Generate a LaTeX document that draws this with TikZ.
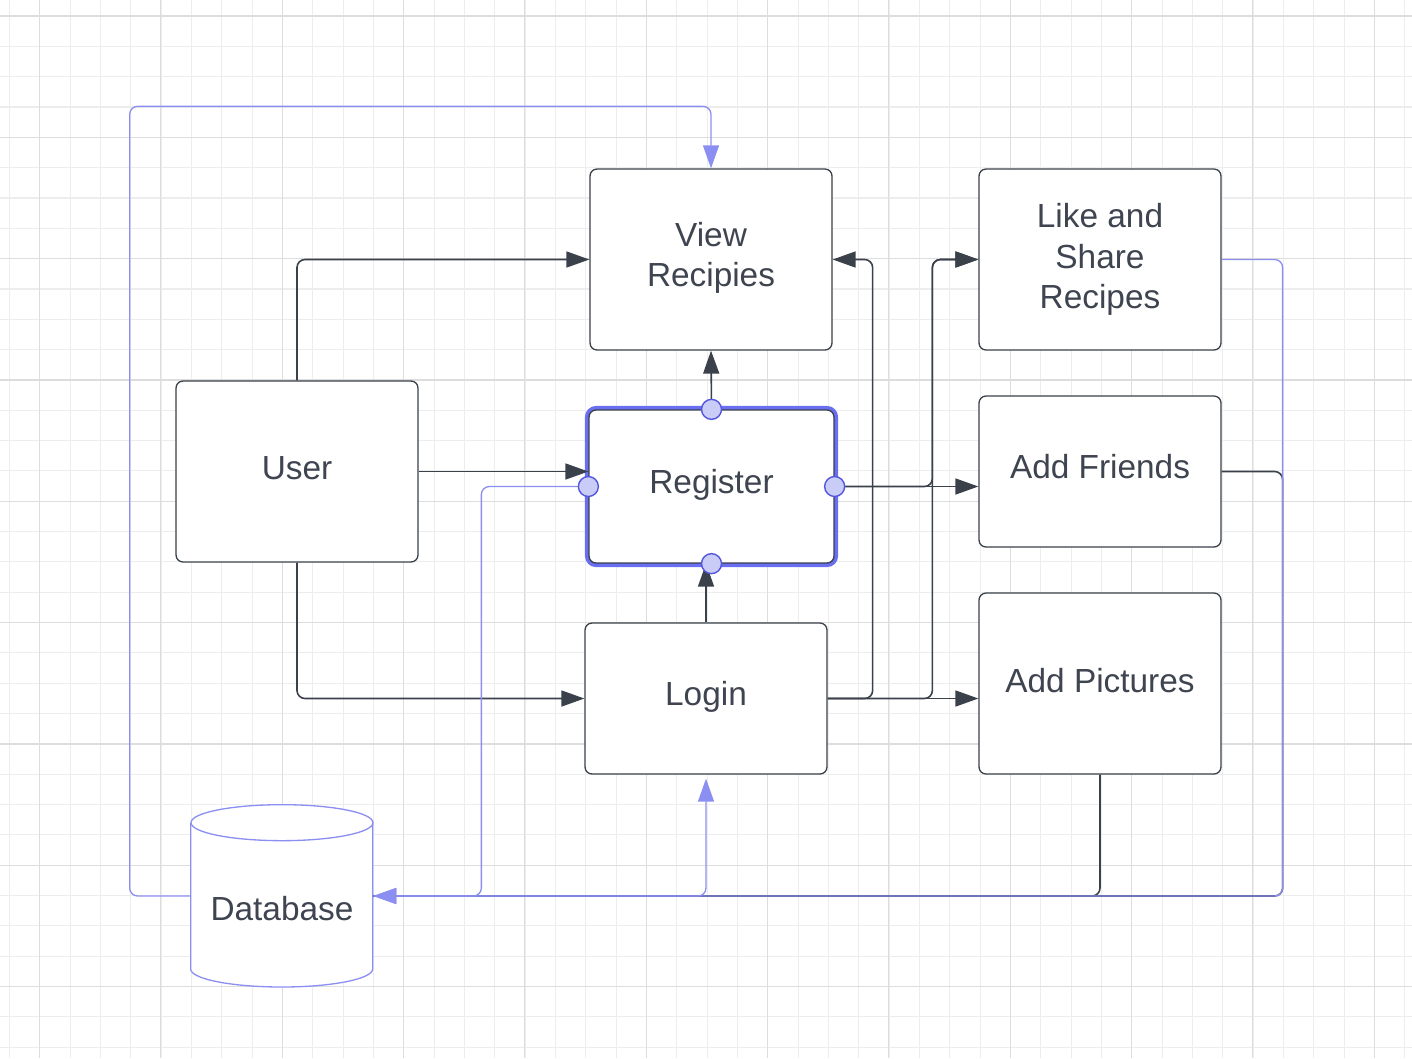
\documentclass[tikz,border=0pt]{standalone}
\usepackage{fontspec}
\setmainfont{Liberation Sans}
\usepackage{xcolor}
\usepackage{tikz}
\usetikzlibrary{arrows.meta,calc}

\definecolor{ink}{HTML}{3A414A}
\definecolor{txt}{HTML}{3E4450}
\definecolor{lav}{HTML}{8C8FF2}
\definecolor{selblue}{HTML}{6A6EF0}
\definecolor{portfill}{HTML}{CACCF8}
\definecolor{portdraw}{HTML}{5357DF}
\definecolor{gridminor}{HTML}{EDEDED}
\definecolor{gridmajor}{HTML}{DDDDDD}

\tikzset{
  box/.style={draw=ink, line width=0.75pt, fill=white, rounded corners=0.14cm,
    minimum width=4.84cm, align=center, text=txt,
    font=\fontsize{19}{23}\selectfont},
  link/.style={draw=ink, line width=0.9pt, rounded corners=0.16cm,
    -{Triangle[length=0.46cm,width=0.32cm]}},
  darkline/.style={draw=ink, line width=0.9pt, rounded corners=0.16cm},
  bluelink/.style={draw=lav, line width=0.75pt, rounded corners=0.16cm,
    -{Triangle[length=0.46cm,width=0.32cm]}},
  dbline/.style={draw=lav, line width=0.75pt},
  port/.style={circle, draw=portdraw, fill=portfill, line width=0.8pt,
    minimum size=0.4cm, inner sep=0pt},
}

\begin{document}
\begin{tikzpicture}[x=0.02cm, y=0.02cm]
\useasboundingbox (0,0) rectangle (1412,-1058);

% grid paper
\foreach \k in {0,...,46} {
  \pgfmathsetmacro\gx{9.5+30.33*\k}
  \draw[gridminor, line width=0.6pt] (\gx,0) -- (\gx,-1058);
}
\foreach \k in {0,...,35} {
  \pgfmathsetmacro\gy{16+30.33*\k}
  \draw[gridminor, line width=0.6pt] (0,-\gy) -- (1412,-\gy);
}
\foreach \k in {0,...,11} {
  \pgfmathsetmacro\gx{39.5+121.33*\k}
  \draw[gridmajor, line width=0.6pt] (\gx,0) -- (\gx,-1058);
}
\foreach \k in {0,...,8} {
  \pgfmathsetmacro\gy{16+121.33*\k}
  \draw[gridmajor, line width=0.6pt] (0,-\gy) -- (1412,-\gy);
}

% boxes
\node[box, minimum height=3.62cm, text depth=0.6em] (view) at (711,-259.5) {View\\Recipies};
\node[box, minimum height=3.62cm] (like) at (1100,-259.5) {Like and\\Share\\Recipes};
\node[box, minimum height=3.62cm, text depth=0.36em] (user) at (297,-471.5) {User};
\node[box, minimum width=4.9cm, minimum height=3.06cm, text depth=0.54em,
  preaction={draw=selblue, line width=4.6pt}] (reg) at (711.5,-486.5) {Register};
\node[box, minimum height=3.02cm, text depth=0.54em] (friends) at (1100,-471.5) {Add Friends};
\node[box, minimum height=3.02cm, text depth=0.54em] (login) at (706,-698.5) {Login};
\node[box, minimum height=3.62cm, text depth=0.36em] (pics) at (1100,-683.5) {Add Pictures};

% database
\node[minimum width=3.64cm, minimum height=3.64cm, text=txt,
  font=\fontsize{19}{23}\selectfont] (db) at (282,-896) {};
\fill[white] (db.west) ++(0,73) -- ++(0,-146)
  arc[start angle=180, end angle=360, x radius=91, y radius=18] -- ++(0,146)
  arc[start angle=0, end angle=180, x radius=91, y radius=18] -- cycle;
\draw[dbline] ($(db.north)+(0,-18)$) ellipse[x radius=91, y radius=18];
\draw[dbline] (db.west) ++(0,73) -- ++(0,-146)
  arc[start angle=180, end angle=360, x radius=91, y radius=18] -- ++(0,146);
\node[text=txt, font=\fontsize{19}{23}\selectfont] (dbtext) at ($(db.center)+(0,-13)$) {Database};

% dark connectors
\draw[link] (user.north) |- (view.west);
\draw[link] (user.east) -- (user.east -| reg.west);
\draw[link] (user.south) |- (login.west);
\draw[link] (login.north) -- (login.north |- reg.south);
\draw[link] (reg.north) -- (view.south);
\draw[link] (reg.east) -- (reg.east -| friends.west);
\draw[link] (reg.east) -| ($(like.west)+(-46,0)$) -- (like.west);
\draw[link] (login.east) -| ($(view.east)+(40,0)$) -- (view.east);
\draw[link] (login.east) -| ($(like.west)+(-46,0)$) -- (like.west);
\draw[link] (login.east) -- (login.east -| pics.west);
\draw[darkline] (friends.east) -- ++(61,0) |- (db.east);
\draw[darkline] (pics.south) |- (db.east);

% blue connectors
\draw[bluelink] (db.west) -- ++(-61,0) |- ($(view.north)+(0,62)$) -- (view.north);
\draw[bluelink] (reg.west) -| ($(db.east)+(108,0)$) -- (db.east);
\draw[bluelink] (like.east) -- ++(61,0) |- (db.east);
\draw[bluelink, shorten >=0.08cm] (db.east) -| (login.south);

% selection handles
\foreach \side in {north,east,south,west}
  \node[port] (port-\side) at (reg.\side) {};
\end{tikzpicture}
\end{document}
